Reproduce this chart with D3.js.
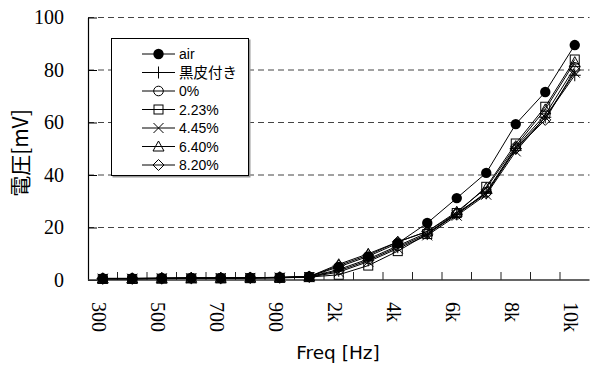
<!DOCTYPE html>
<html>
<head>
<meta charset="utf-8">
<script src="https://cdn.jsdelivr.net/npm/d3@7"></script>
<style>
  html, body { margin: 0; padding: 0; background: #fff; }
  svg { display: block; }
</style>
</head>
<body>
<svg id="chart" width="590" height="367"></svg>
<script>
// Frequency categories (evenly spaced category axis)
const categories = ["300","400","500","600","700","800","900","1k","2k","3k","4k","5k","6k","7k","8k","9k","10k"];
// Only every other category carries a label
const xTickLabels = ["300","500","700","900","2k","4k","6k","8k","10k"];
const yTicks = [0, 20, 40, 60, 80, 100];

// Measured voltage [mV] per condition
const seriesNames = ["air", "黒皮付き", "0%", "2.23%", "4.45%", "6.40%", "8.20%"];
const airValues      = [0.6, 0.6, 0.7, 0.8, 0.8, 0.9, 1.0, 1.3, 5.0, 9.0, 14.0, 21.7, 31.2, 40.8, 59.4, 71.6, 89.5];
const kurokawaValues = [0.5, 0.5, 0.6, 0.7, 0.7, 0.8, 0.9, 1.2, 3.5, 7.5, 12.5, 17.5, 25.0, 33.0, 50.0, 62.0, 78.0];
const pct0Values     = [0.5, 0.5, 0.6, 0.7, 0.7, 0.8, 0.9, 1.2, 4.0, 8.0, 13.0, 18.0, 25.0, 33.5, 50.5, 63.0, 81.0];
const pct223Values   = [0.4, 0.4, 0.5, 0.6, 0.6, 0.7, 0.8, 1.1, 2.0, 5.5, 11.0, 17.5, 25.5, 35.5, 52.0, 66.0, 84.0];
const pct445Values   = [0.5, 0.5, 0.6, 0.6, 0.7, 0.8, 0.9, 1.1, 3.0, 7.0, 12.0, 17.0, 24.5, 32.5, 49.0, 62.0, 79.0];
const pct640Values   = [0.6, 0.6, 0.7, 0.8, 0.8, 0.9, 1.0, 1.3, 6.0, 10.0, 14.5, 18.5, 26.0, 35.0, 51.0, 65.0, 83.0];
const pct820Values   = [0.6, 0.6, 0.7, 0.8, 0.8, 0.9, 1.0, 1.3, 5.5, 9.5, 14.5, 18.5, 25.5, 33.0, 50.0, 61.0, 80.0];

const seriesValues = [airValues, kurokawaValues, pct0Values, pct223Values, pct445Values, pct640Values, pct820Values];
const markerKinds = ["dot", "plus", "circle", "square", "x", "triangle", "diamond"];

const series = seriesNames.map((name, i) => ({
  name,
  kind: markerKinds[i],
  values: seriesValues[i].map((v, j) => ({ cat: categories[j], v }))
}));

const TICK_FONT = "Liberation Serif, DejaVu Serif, serif";
const svg = d3.select("#chart");
const plot = { left: 88, right: 589.5, top: 17.5, bottom: 280 };

const x = d3.scaleBand().domain(categories).range([plot.left, plot.right]).padding(0);
const y = d3.scaleLinear().domain([0, 100]).range([plot.bottom, plot.top]);
const cx = c => x(c) + x.bandwidth() / 2;

// Dashed horizontal gridlines
svg.append("g")
  .selectAll("line")
  .data(yTicks.filter(t => t > 0))
  .join("line")
  .attr("x1", plot.left).attr("x2", plot.right)
  .attr("y1", d => y(d)).attr("y2", d => y(d))
  .attr("stroke", "#444")
  .attr("stroke-width", 1)
  .attr("stroke-dasharray", "6,4");

// Y axis: ticks point inward
const yAxis = d3.axisLeft(y).tickValues(yTicks).tickSize(-9).tickPadding(33).tickSizeOuter(0);
const gy = svg.append("g").attr("transform", `translate(${plot.left},0)`).call(yAxis);
gy.attr("font-family", null).attr("font-size", null);
gy.select(".domain").attr("stroke", "#000").attr("stroke-width", 1.2);
gy.selectAll(".tick line").attr("stroke", "#000");
gy.selectAll(".tick text")
  .attr("x", -24)
  .style("font-family", TICK_FONT)
  .style("font-size", "20px")
  .attr("fill", "#000")
  .attr("text-anchor", "end");

// X axis: category boundaries as inward ticks
const boundaries = d3.range(1, categories.length).map(i => plot.left + i * x.bandwidth());
svg.append("g")
  .selectAll("line")
  .data(boundaries)
  .join("line")
  .attr("x1", d => d).attr("x2", d => d)
  .attr("y1", plot.bottom).attr("y2", plot.bottom - 8)
  .attr("stroke", "#222");
svg.append("line")
  .attr("x1", plot.left).attr("x2", plot.right)
  .attr("y1", plot.bottom).attr("y2", plot.bottom)
  .attr("stroke", "#333").attr("stroke-width", 1.5);

// Rotated category labels
svg.append("g")
  .selectAll("text")
  .data(xTickLabels)
  .join("text")
  .attr("transform", d => `translate(${cx(d)},302) rotate(90)`)
  .attr("dy", "0.55em")
  .style("font-family", TICK_FONT)
  .style("font-size", "20px")
  .attr("fill", "#000")
  .text(d => d);

// Axis titles
svg.append("text")
  .attr("x", 338).attr("y", 359)
  .attr("text-anchor", "middle")
  .style("font-family", "DejaVu Sans")
  .style("font-size", "18.5px")
  .attr("fill", "#000")
  .text("Freq [Hz]");

svg.append("text")
  .attr("transform", "translate(20,153) rotate(-90)")
  .attr("text-anchor", "middle")
  .attr("dy", "0.36em")
  .style("font-family", "Noto Sans CJK JP")
  .style("font-size", "21px")
  .attr("fill", "#000")
  .text("電圧[mV]");

// Marker drawing
function drawMarker(g, kind) {
  const s = "#000";
  switch (kind) {
    case "dot":
      g.append("circle").attr("r", 5.2).attr("fill", s);
      break;
    case "plus":
      g.append("path").attr("d", "M-6,0H6M0,-6V6").attr("stroke", s).attr("fill", "none");
      break;
    case "circle":
      g.append("circle").attr("r", 4.8).attr("fill", "none").attr("stroke", s);
      break;
    case "square":
      g.append("rect").attr("x", -4.5).attr("y", -4.5).attr("width", 9).attr("height", 9)
        .attr("fill", "none").attr("stroke", s);
      break;
    case "x":
      g.append("path").attr("d", "M-5,-5L5,5M-5,5L5,-5").attr("stroke", s).attr("fill", "none");
      break;
    case "triangle":
      g.append("path").attr("d", "M0,-5.5L5.5,4.5H-5.5Z").attr("stroke", s).attr("fill", "none");
      break;
    case "diamond":
      g.append("path").attr("d", "M0,-5.5L5.5,0L0,5.5L-5.5,0Z").attr("stroke", s).attr("fill", "none");
      break;
  }
}

const line = d3.line().x(d => cx(d.cat)).y(d => y(d.v));

const gSeries = svg.append("g")
  .selectAll("g")
  .data(series)
  .join("g");

gSeries.append("path")
  .attr("d", d => line(d.values))
  .attr("fill", "none")
  .attr("stroke", "#000")
  .attr("stroke-width", 1);

gSeries.each(function (s) {
  d3.select(this).selectAll("g.mk")
    .data(s.values)
    .join("g")
    .attr("class", "mk")
    .attr("transform", d => `translate(${cx(d.cat)},${y(d.v)})`)
    .each(function () { drawMarker(d3.select(this), s.kind); });
});

// Legend
const legend = svg.append("g").attr("transform", "translate(111,38)");
legend.append("rect")
  .attr("x", 1.5).attr("y", 1.5).attr("width", 138).attr("height", 138)
  .attr("fill", "#999");
legend.append("rect")
  .attr("x", 0.5).attr("y", 0.5).attr("width", 137).attr("height", 137)
  .attr("fill", "#fff").attr("stroke", "#000");

const rows = legend.selectAll("g.row")
  .data(series)
  .join("g")
  .attr("class", "row")
  .attr("transform", (d, i) => `translate(0,${16 + i * 18.5})`);

rows.append("line")
  .attr("x1", 31).attr("x2", 64)
  .attr("stroke", "#000");
rows.append("g")
  .attr("transform", "translate(47.5,0)")
  .each(function (d) { drawMarker(d3.select(this), d.kind); });
rows.append("text")
  .attr("x", 68)
  .attr("dy", "0.36em")
  .style("font-family", d => /[^\x00-\x7F]/.test(d.name) ? "Noto Sans CJK JP" : "Liberation Sans Narrow, Liberation Sans, sans-serif")
  .style("font-size", d => /[^\x00-\x7F]/.test(d.name) ? "14.5px" : "14px")
  .attr("fill", "#000")
  .text(d => d.name);
</script>
</body>
</html>
